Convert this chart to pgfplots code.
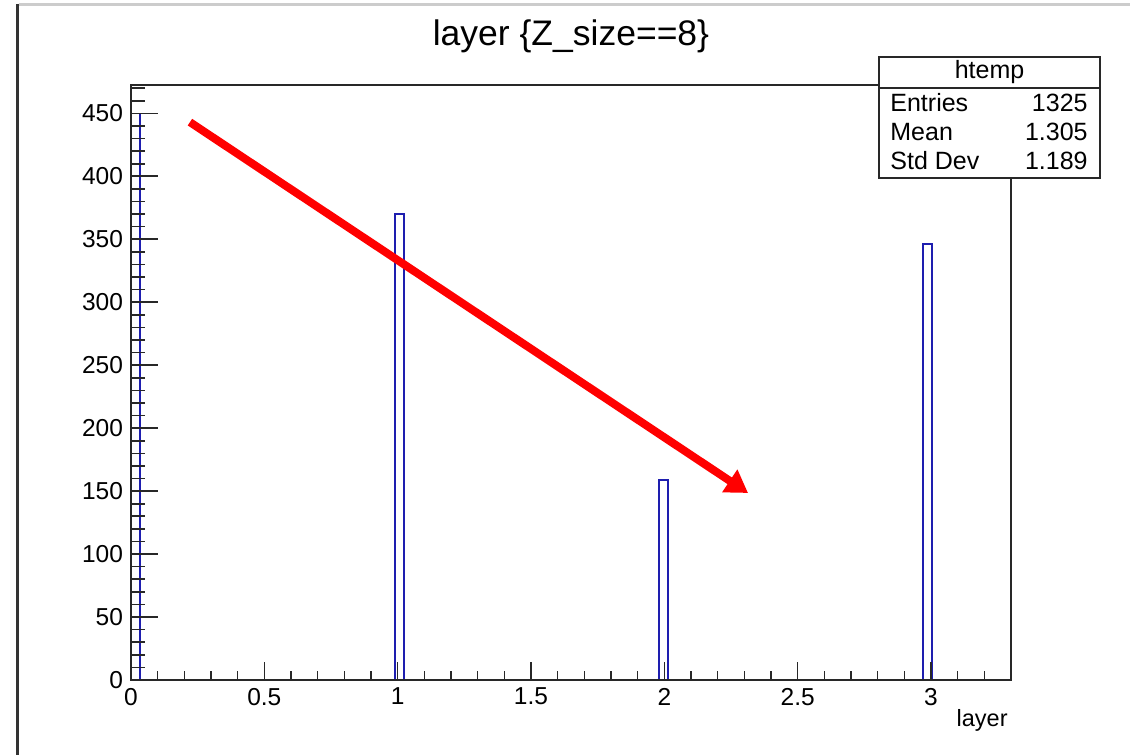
\documentclass[border=0pt]{standalone}
\usepackage{fontspec}
\setmainfont{Liberation Sans}
\usepackage{pgfplots}
\pgfplotsset{compat=1.18}
\usetikzlibrary{arrows.meta}
\definecolor{histblue}{RGB}{30,30,175}
\definecolor{axgray}{RGB}{40,40,40}
\begin{document}
\begin{tikzpicture}
\path[use as bounding box] (-65.5pt,-37.5pt) rectangle (499.5pt,340pt);
\fill[white] (-65.5pt,-37.5pt) rectangle (499.5pt,340pt);
% window edges
\draw[gray!40, line width=1.5pt] (-56pt,337.5pt) -- (499.5pt,337.5pt);
\draw[black!80, line width=1.5pt] (-56.5pt,338pt) -- (-56.5pt,-37.5pt);
% main axis: data, frame, y ticks
\begin{axis}[
  scale only axis, width=440pt, height=297.5pt,
  at={(0,0)}, anchor=south west,
  xmin=0, xmax=3.3, ymin=0, ymax=472.5,
  axis on top,
  axis line style={axgray, line width=0.8pt},
  xtick=\empty,
  ytick={0,50,...,500}, minor y tick num=4,
  ytick pos=left, tick align=inside,
  major tick length=13.5pt, minor tick length=7pt,
  every tick/.style={axgray, line width=0.8pt},
  yticklabel style={font=\fontsize{12.25}{14}\selectfont, xshift=-0.5pt},
  /pgf/number format/assume math mode=true,
  clip=false,
]
\addplot[const plot, histblue, line width=0.8pt] coordinates {
  (0,0) (0,450) (0.033,0) (0.99,370) (1.023,0) (1.98,159) (2.013,0)
  (2.97,346) (3.003,0) (3.3,0)
};
\draw[red, line width=4pt, -{Triangle[length=11pt,width=13pt]}]
  (axis cs:0.221,443) -- (axis cs:2.314,148.5);
\end{axis}
% second axis: x ticks only
\begin{axis}[
  scale only axis, width=440pt, height=297.5pt,
  at={(0,0)}, anchor=south west,
  xmin=0, xmax=3.3, ymin=0, ymax=472.5,
  axis line style={draw=none},
  ytick=\empty,
  xtick={0,0.5,...,3.5}, minor x tick num=4,
  xtick pos=left, tick align=inside,
  major tick length=9pt, minor tick length=4.5pt,
  every tick/.style={axgray, line width=0.8pt},
  xticklabel style={font=\fontsize{12.25}{14}\selectfont, yshift=-0.5pt},
  /pgf/number format/assume math mode=true,
]
\end{axis}
% title
\node[font=\fontsize{17.75}{20}\selectfont] at (220pt,322pt) {layer \{Z\_size==8\}};
% x label
\node[font=\fontsize{11.75}{13}\selectfont, anchor=east, inner sep=0pt] at (438.5pt,-20pt) {layer};
% stats box
\draw[axgray, line width=0.8pt, fill=white] (374pt,251pt) rectangle (484.5pt,311.5pt);
\draw[axgray, line width=0.8pt] (374pt,296pt) -- (484.5pt,296pt);
\node[font=\fontsize{12.5}{14}\selectfont] at (429.25pt,304pt) {htemp};
\begin{scope}[every node/.style={font=\fontsize{12.5}{14}\selectfont, inner sep=0pt}]
\node[anchor=west] at (379.5pt,288.5pt) {Entries};
\node[anchor=west] at (379.5pt,274pt) {Mean};
\node[anchor=west] at (379.5pt,259.5pt) {Std Dev};
\node[anchor=east] at (478.5pt,288.5pt) {1325};
\node[anchor=east] at (478.5pt,274pt) {1.305};
\node[anchor=east] at (478.5pt,259.5pt) {1.189};
\end{scope}
\end{tikzpicture}
\end{document}
